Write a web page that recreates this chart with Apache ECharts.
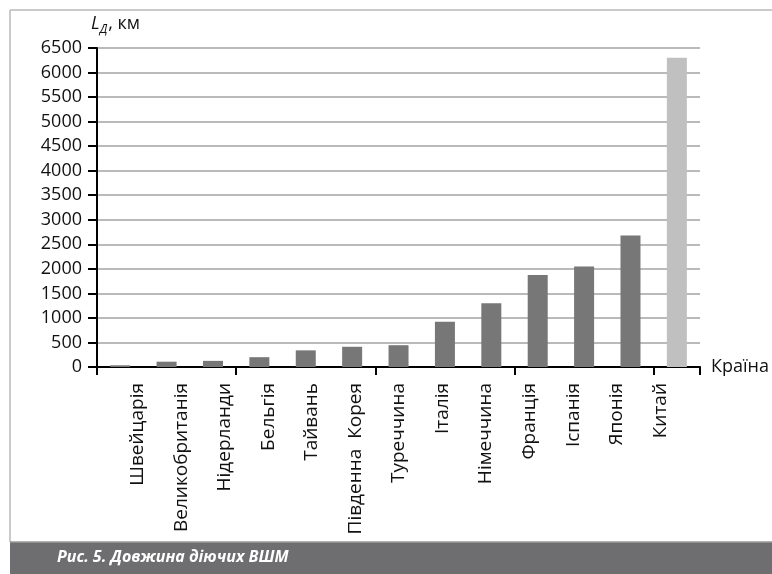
<!DOCTYPE html>
<html>
<head>
<meta charset="utf-8">
<script src="https://cdn.jsdelivr.net/npm/echarts@6/dist/echarts.min.js"></script>
<style>
  html, body { margin: 0; padding: 0; background: #fff; }
  #chart { width: 772px; height: 574px; }
</style>
</head>
<body>
<div id="chart"></div>
<script>
// Length of operating high-speed railways by country, km
const countries = ['Швейцарія', 'Великобританія', 'Нідерланди', 'Бельгія', 'Тайвань',
  'Південна  Корея', 'Туреччина', 'Італія', 'Німеччина', 'Франція', 'Іспанія', 'Японія', 'Китай'];
const lengthKm = [35, 108, 125, 200, 339, 412, 444, 923, 1300, 1875, 2050, 2680, 6300];
const highlighted = 'Китай';

const yMin = 0;
const yMax = 6500;
const yStep = 500;

const captionText = 'Рис. 5. Довжина діючих ВШМ';

const FONT = '"Open Sans", "Noto Sans", sans-serif';

const chart = echarts.init(document.getElementById('chart'), null, { renderer: 'canvas' });

chart.setOption({
  animation: false,
  backgroundColor: '#ffffff',
  grid: [
    // plot area
    { left: 97, right: 71, top: 48, bottom: 207, containLabel: false },
    // band carrying the country names, laid out on a slightly tighter pitch
    { left: 116, right: 90, top: 48, bottom: 207, containLabel: false }
  ],
  xAxis: [
    {
      type: 'category',
      gridIndex: 0,
      data: countries,
      name: 'Країна',
      nameLocation: 'end',
      nameGap: 11,
      nameTextStyle: { color: '#111', fontSize: 18, fontFamily: FONT, verticalAlign: 'middle' },
      axisLine: { lineStyle: { color: '#000', width: 2 } },
      axisTick: { show: true, length: 8, lineStyle: { color: '#000', width: 2 } },
      axisLabel: { show: false },
      splitLine: { show: false }
    },
    {
      type: 'category',
      gridIndex: 1,
      data: countries,
      axisLine: { show: false },
      axisTick: { show: false },
      axisLabel: {
        rotate: 90,
        margin: 16,
        interval: 0,
        color: '#111',
        fontSize: 19,
        fontFamily: FONT
      },
      splitLine: { show: false }
    }
  ],
  yAxis: [
    {
      type: 'value',
      gridIndex: 0,
      min: yMin,
      max: yMax,
      interval: yStep,
      axisLine: { show: true, lineStyle: { color: '#000', width: 2 } },
      axisTick: { show: true, length: 9, lineStyle: { color: '#000', width: 2 } },
      axisLabel: { color: '#111', fontSize: 18, fontFamily: FONT, margin: 15, formatter: v => String(v) },
      splitLine: { show: true, lineStyle: { color: '#a3a3a3', width: 1.5 } }
    },
    {
      type: 'value',
      gridIndex: 1,
      min: yMin,
      max: yMax,
      show: false
    }
  ],
  series: [{
    type: 'bar',
    xAxisIndex: 0,
    yAxisIndex: 0,
    data: lengthKm,
    barWidth: 20,
    itemStyle: {
      color: p => (p.name === highlighted ? '#c0c0c0' : '#777777')
    },
    z: 3
  }],
  graphic: [
    // page frame
    { type: 'line', shape: { x1: 10, y1: 10, x2: 772, y2: 10 }, style: { stroke: '#b8b8b8', lineWidth: 1.5 }, silent: true },
    { type: 'line', shape: { x1: 10, y1: 10, x2: 10, y2: 542 }, style: { stroke: '#b8b8b8', lineWidth: 1.5 }, silent: true },
    // y axis title
    {
      type: 'text',
      left: 91,
      top: 15,
      style: {
        text: '{l|L}{s|Д}{t|, км}',
        rich: {
          l: { fontSize: 18, fontStyle: 'italic', fontFamily: FONT, fill: '#111', lineHeight: 24, verticalAlign: 'middle' },
          s: { fontSize: 12, fontStyle: 'italic', fontFamily: FONT, fill: '#111', lineHeight: 24, verticalAlign: 'bottom', padding: [0, 1, 0, 0] },
          t: { fontSize: 18, fontFamily: FONT, fill: '#111', lineHeight: 24, verticalAlign: 'middle' }
        }
      }
    },
    // caption band
    { type: 'rect', shape: { x: 10, y: 542, width: 762, height: 32 }, style: { fill: '#6e6e70' }, silent: true },
    { type: 'line', shape: { x1: 10, y1: 542, x2: 772, y2: 542 }, style: { stroke: '#9a9a9a', lineWidth: 1.5 }, silent: true },
    {
      type: 'text',
      left: 57,
      top: 549,
      style: {
        text: captionText,
        fill: '#ffffff',
        fontSize: 16,
        fontWeight: 'bold',
        fontStyle: 'italic',
        fontFamily: '"Liberation Sans Narrow", "Open Sans", sans-serif'
      }
    }
  ]
});
</script>
</body>
</html>
